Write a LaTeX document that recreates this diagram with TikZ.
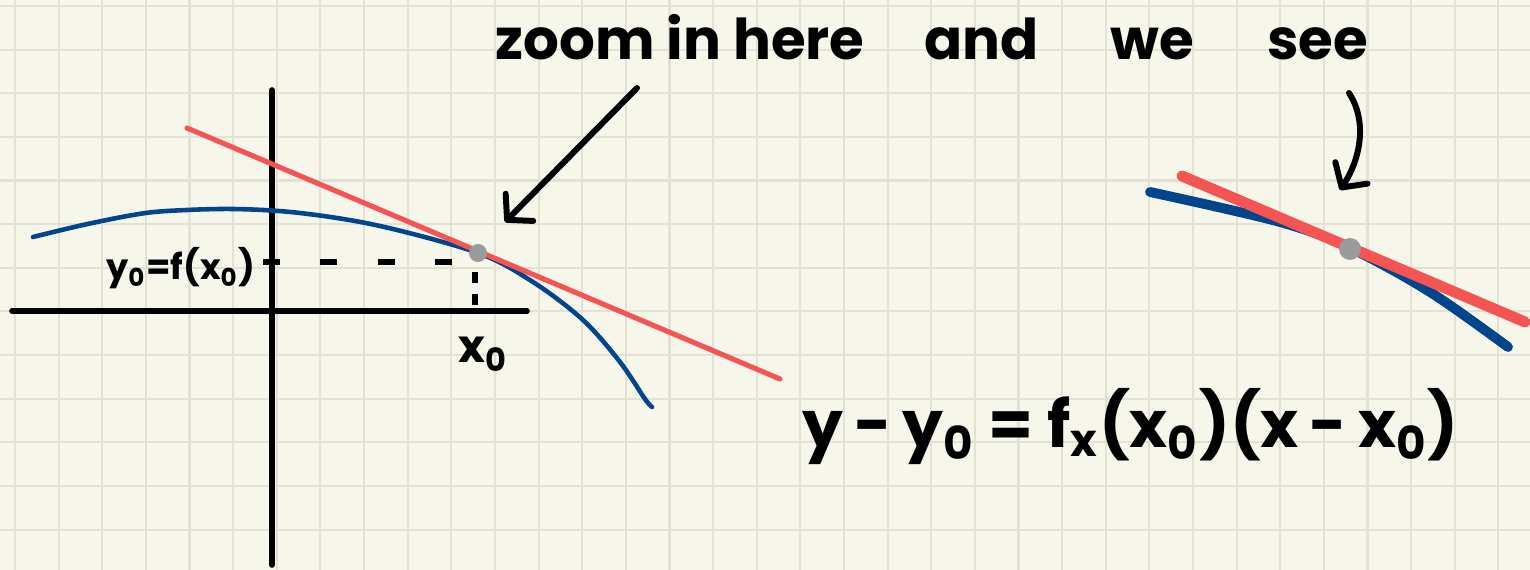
\documentclass[tikz,border=0pt]{standalone}
\usepackage{fontspec}
\setmainfont{Poppins}
\usetikzlibrary{arrows.meta}

\definecolor{paper}{HTML}{F7F6EA}
\definecolor{gridcol}{HTML}{E2E1D4}
\definecolor{tanred}{HTML}{F45553}
\definecolor{curveblue}{HTML}{03458D}
\definecolor{dotgray}{HTML}{9B9B9B}

\begin{document}
\begin{tikzpicture}[x=0.01cm,y=-0.01cm,
  gridln/.style={draw=gridcol,line width=0.6pt},
  ink/.style={draw=black,line width=1.7pt,line cap=round,line join=round},
  axis/.style={ink,line width=1.6pt},
  guide/.style={ink,line width=1.5pt,line cap=butt},
  tanL/.style={draw=tanred,line width=1.45pt,line cap=round},
  tanR/.style={draw=tanred,line width=3.1pt,line cap=round},
  curveL/.style={draw=curveblue,line width=1.3pt,line cap=round},
  curveR/.style={draw=curveblue,line width=2.8pt,line cap=round},
  hand/.style={-{Straight Barb[round,length=5pt,width=11pt]}},
  dot/.style={circle,fill=dotgray,inner sep=0pt,minimum size=#1},
  note/.style={inner sep=0pt,font=\bfseries\fontsize{#1}{#1}\selectfont}
]
  \fill[paper] (0,0) rectangle (1530,570);
  \useasboundingbox (0,0) rectangle (1530,570);
  \foreach \k in {0,...,34}
    \draw[gridln] ({15+43.63*\k},0) -- ({15+43.63*\k},570);
  \foreach \k in {0,...,13}
    \draw[gridln] (0,{6+43.63*\k}) -- (1530,{6+43.63*\k});

  % left sketch
  \coordinate (ytop) at (272,90);
  \coordinate (ybot) at (272,565);
  \coordinate (xleft) at (12,311);
  \coordinate (xright) at (527,311);
  \draw[axis] (ytop) -- (ybot);
  \draw[axis] (xleft) -- (xright);

  \draw[curveL] plot[smooth,tension=0.55] coordinates {(33,237) (83,225) (133,215) (167,211) (233,209) (300,213) (380,226) (478,253) (533,282) (583,320) (620,362) (645,399) (652,407)};
  \coordinate (tanLa) at (187,128);
  \coordinate (tanLb) at (780,379);
  \draw[tanL] (tanLa) -- (tanLb);
  \node[dot=0.18cm] (touchL) at (478,253) {};

  \coordinate (yzero) at (263,262);
  \coordinate (xzero) at (475,272);
  \draw[guide,dash pattern=on 4.8pt off 11.5pt] (yzero) -- (touchL.west |- yzero);
  \draw[guide,dash pattern=on 3pt off 3.3pt] (xzero) -- (475,309);

  \node[note=10pt,anchor=base east] (ylabel) at (256,280) {y\textsubscript{0}=f(x\textsubscript{0})};
  \node[note=13pt,anchor=base west] (xlabel) at (458,362) {x\textsubscript{0}};

  \node[note=16pt,anchor=base west] (zoomtxt) at (495,60) {zoom in here\hspace{0.6cm}and\hspace{0.72cm}we\hspace{0.73cm}see};
  \coordinate (zoomtail) at (637,88);
  \coordinate (zoomtip) at (505,222);
  \draw[ink,hand] (zoomtail) -- (zoomtip);

  % right sketch
  \draw[curveR] plot[smooth,tension=0.55] coordinates {(1150,192) (1280,222) (1350,248) (1430,292) (1508,347)};
  \coordinate (tanRa) at (1182,176);
  \coordinate (tanRb) at (1525,322);
  \draw[tanR] (tanRa) -- (tanRb);
  \node[dot=0.22cm] (touchR) at (1350,249) {};
  \coordinate (seetail) at (1349,93);
  \coordinate (seetip) at (1340,190);
  \draw[ink,hand] (seetail) .. controls (1368,122) and (1360,160) .. (seetip);

  \node[note=18.4pt,anchor=base west] (tangent) at (802,447) {y\,-\,y\textsubscript{0} = f\textsubscript{x}(x\textsubscript{0})(x\,-\,x\textsubscript{0})};
\end{tikzpicture}
\end{document}
